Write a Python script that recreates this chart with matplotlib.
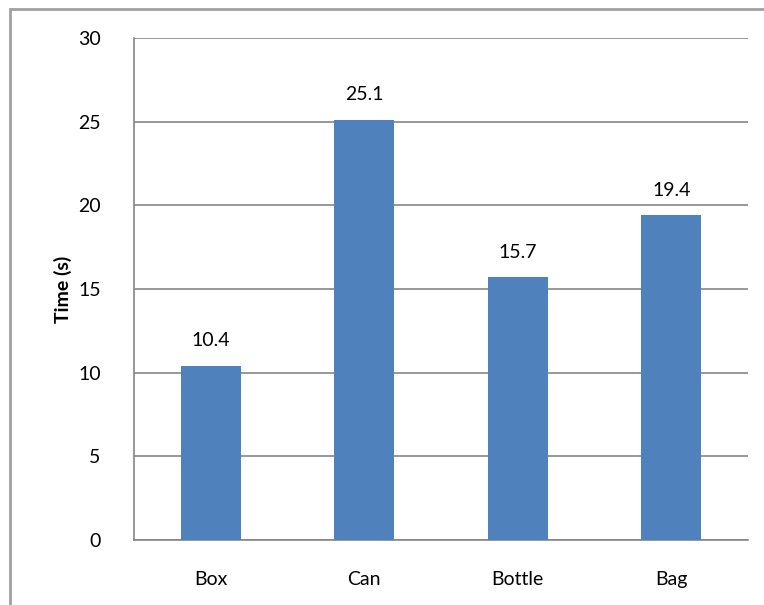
import matplotlib.pyplot as plt
import matplotlib.patches as mpatches
import numpy as np

plt.rc('font', family=['Lato', 'DejaVu Sans'], size=14)

categories = ['Box', 'Can', 'Bottle', 'Bag']
times = [10.4, 25.1, 15.7, 19.4]

fig = plt.figure(figsize=(7.64, 6.05), dpi=100)
ax = fig.add_axes([134 / 764, 1 - 540 / 605, (748 - 134) / 764, (540 - 38) / 605])

# outer chart border like Excel
fig.patches.append(mpatches.Rectangle((10 / 764, -0.05), 1.2, 1 - 9 / 605 + 0.05,
                                      transform=fig.transFigure, fill=False,
                                      edgecolor='#a0a0a0', linewidth=2))

x = np.arange(len(categories))
bars = ax.bar(x, times, width=0.39, color='#4f81bd', zorder=3)
ax.bar_label(bars, labels=[f'{v:.1f}' for v in times], padding=12, fontsize=14)

ax.set_xlim(-0.5, len(categories) - 0.5)
ax.set_ylim(0, 30)
ax.set_yticks(np.arange(0, 31, 5))
ax.set_xticks(x)
ax.set_xticklabels(categories)
ax.yaxis.grid(True, color='#868686', linewidth=1.2, zorder=0)
ax.set_axisbelow(True)

for side in ['top', 'right']:
    ax.spines[side].set_visible(False)
for side in ['left', 'bottom']:
    ax.spines[side].set_color('#868686')
    ax.spines[side].set_linewidth(1.2)

ax.tick_params(axis='y', length=0, pad=24)
ax.tick_params(axis='x', length=0, pad=22)
ax.set_ylabel('Time (s)', fontweight='bold', fontsize=14, labelpad=4)

plt.savefig('out.png', dpi=100)
